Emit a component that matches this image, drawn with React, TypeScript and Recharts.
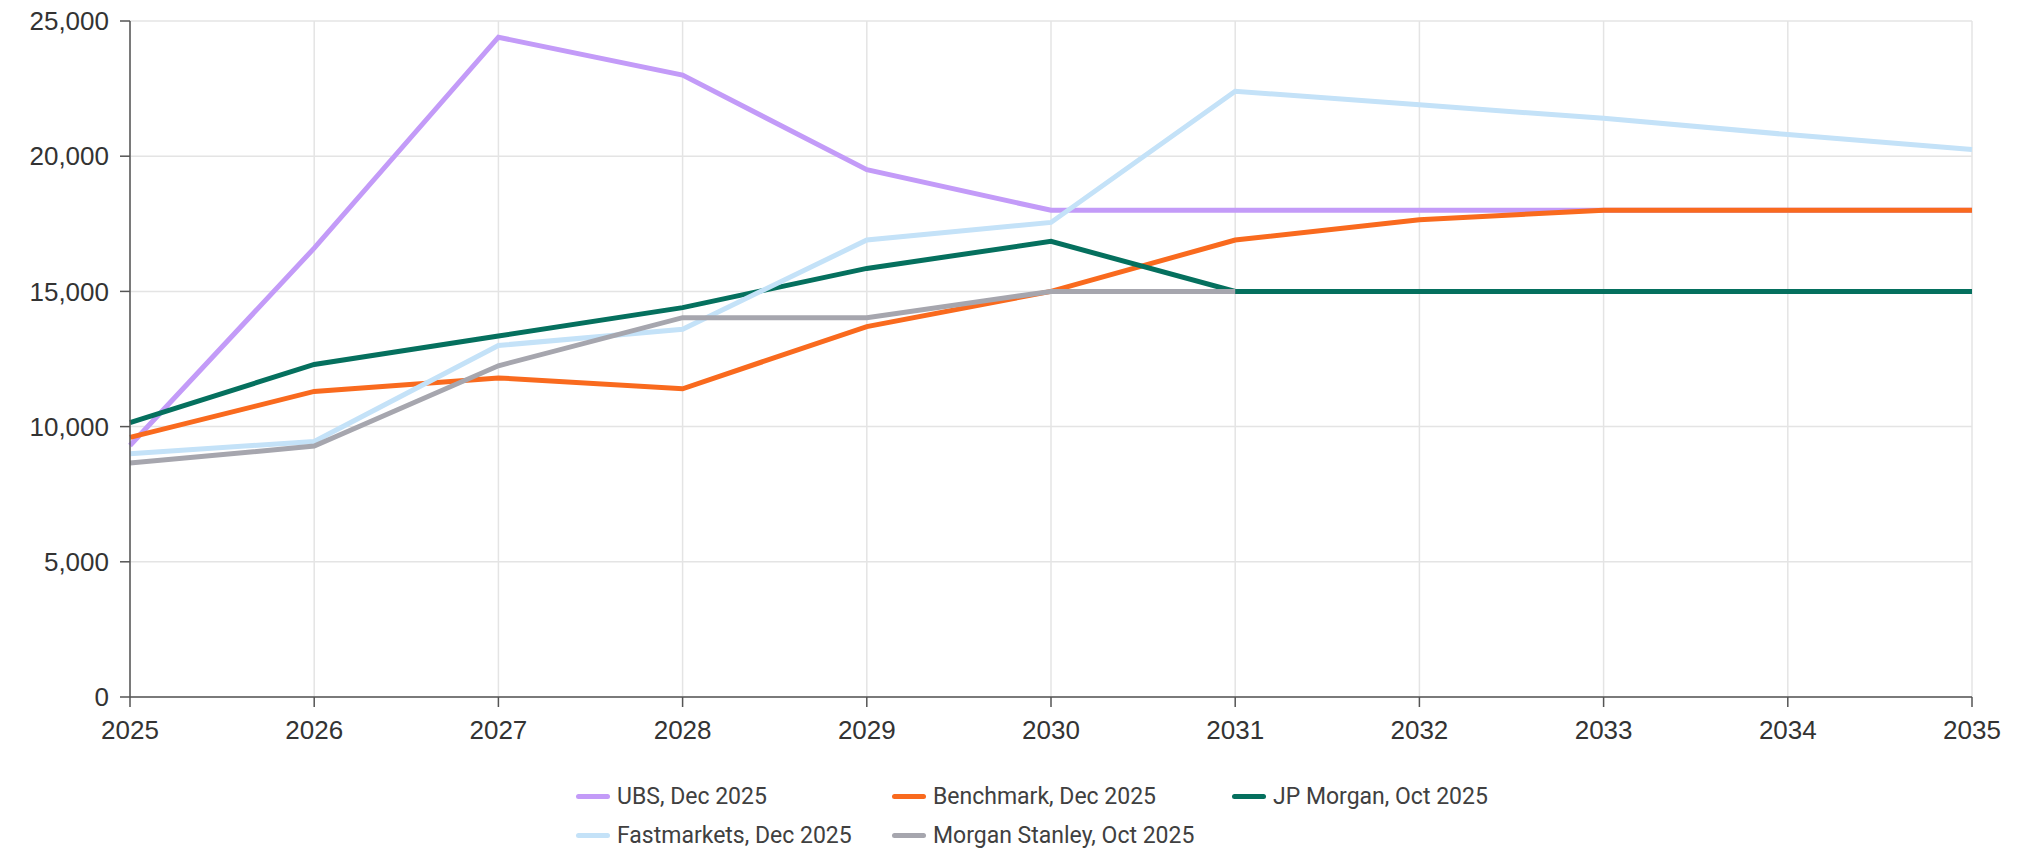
import React from "react";
import {
  LineChart,
  Line,
  XAxis,
  YAxis,
  CartesianGrid,
  Legend,
} from "recharts";

const years = ["2025", "2026", "2027", "2028", "2029", "2030", "2031", "2032", "2033", "2034", "2035"];

const ubs = [9300, 16600, 24400, 23000, 19500, 18000, 18000, 18000, 18000, 18000, 18000];
const benchmark = [9600, 11300, 11800, 11400, 13700, 15000, 16900, 17650, 18000, 18000, 18000];
const jpMorgan = [10150, 12300, 13350, 14400, 15850, 16850, 15000, 15000, 15000, 15000, 15000];
const fastmarkets = [9000, 9450, 13000, 13600, 16900, 17550, 22400, 21900, 21400, 20800, 20250];
const morganStanley = [8650, 9280, 12250, 14030, 14030, 15000, 15000, null, null, null, null];

const yTicks = [0, 5000, 10000, 15000, 20000, 25000];

const SERIES = [
  { key: "ubs", name: "UBS, Dec 2025", color: "#C39BF8" },
  { key: "benchmark", name: "Benchmark, Dec 2025", color: "#F96A1E" },
  { key: "jpMorgan", name: "JP Morgan, Oct 2025", color: "#05705E" },
  { key: "fastmarkets", name: "Fastmarkets, Dec 2025", color: "#C4E2F8" },
  { key: "morganStanley", name: "Morgan Stanley, Oct 2025", color: "#A6A6AE" },
];

const data = years.map((year, i) => ({
  year,
  ubs: ubs[i],
  benchmark: benchmark[i],
  jpMorgan: jpMorgan[i],
  fastmarkets: fastmarkets[i],
  morganStanley: morganStanley[i],
}));

const AXIS_FONT = "'Liberation Sans', Arial, sans-serif";

// keep the legend in series order (recharts sorts it by name otherwise)
const CustomLegend = () => {
  const colWidths = [316, 340, 300];
  return (
    <div
      style={{
        display: "grid",
        gridTemplateColumns: colWidths.map((w) => w + "px").join(" "),
        rowGap: 6,
        marginLeft: 576,
        fontFamily: "Roboto, sans-serif",
        fontSize: 23,
        color: "#404040",
      }}
    >
      {SERIES.map((s) => (
        <div key={s.key} style={{ display: "flex", alignItems: "center", height: 33 }}>
          <span
            style={{
              display: "inline-block",
              width: 34,
              height: 5,
              borderRadius: 3,
              backgroundColor: s.color,
              marginRight: 7,
            }}
          />
          <span>{s.name}</span>
        </div>
      ))}
    </div>
  );
};

export default function App() {
  return (
    <div style={{ position: "absolute", left: 0, top: 0, width: 2024, height: 853, background: "#fff" }}>
      <LineChart
        width={2024}
        height={853}
        data={data}
        margin={{ top: 21, right: 52, left: 0, bottom: 116 }}
      >
        <CartesianGrid stroke="#E4E4E4" strokeWidth={1.5} />
        <XAxis
          dataKey="year"
          height={40}
          tickSize={10}
          tickMargin={14}
          stroke="#555"
          strokeWidth={1.5}
          tick={{ fill: "#333", fontSize: 26, fontFamily: AXIS_FONT }}
          interval={0}
        />
        <YAxis
          width={130}
          domain={[0, 25000]}
          ticks={yTicks}
          tickSize={10}
          tickMargin={11}
          stroke="#555"
          strokeWidth={1.5}
          tick={{ fill: "#333", fontSize: 26, fontFamily: AXIS_FONT }}
          tickFormatter={(v: number) => v.toLocaleString("en-US")}
        />
        <Legend
          layout="horizontal"
          verticalAlign="middle"
          align="center"
          content={<CustomLegend />}
          wrapperStyle={{ top: 780, left: 0, width: 2024 }}
        />
        {SERIES.map((s) => (
          <Line
            key={s.key}
            type="linear"
            dataKey={s.key}
            name={s.name}
            stroke={s.color}
            strokeWidth={5}
            dot={false}
            activeDot={false}
            isAnimationActive={false}
          />
        ))}
      </LineChart>
    </div>
  );
}
